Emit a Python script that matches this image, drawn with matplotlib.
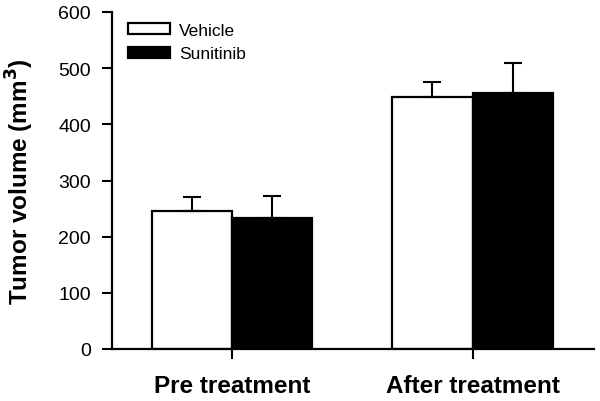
import numpy as np
import matplotlib
matplotlib.use('Agg')
import matplotlib.pyplot as plt

plt.rcParams['font.family'] = ['Liberation Sans', 'DejaVu Sans']

# data
groups = ['Pre treatment', 'After treatment']
vehicle = [245, 449]
vehicle_err = [25, 26]
sunitinib = [234, 455]
sunitinib_err = [38, 54]

fig = plt.figure(figsize=(6.0, 4.02), dpi=100)
ax = fig.add_axes([111.7/600, (402-350)/402, (594-111.7)/600, 337/402])

x = np.arange(len(groups))
w = 0.333
err_kw = dict(ecolor='black', elinewidth=1.5, capsize=6.5, capthick=1.5)
ax.bar(x - w/2, vehicle, w, yerr=[np.zeros(2), vehicle_err], color='white',
       edgecolor='black', linewidth=1.6, label='Vehicle', error_kw=err_kw)
ax.bar(x + w/2, sunitinib, w, yerr=[np.zeros(2), sunitinib_err], color='black',
       edgecolor='black', linewidth=1.6, label='Sunitinib', error_kw=err_kw)

ax.set_xlim(-0.5, 1.505)
ax.set_ylim(0, 600)
ax.set_yticks([0, 100, 200, 300, 400, 500, 600])
ax.set_xticks(x)
ax.set_xticklabels(groups, fontsize=17.5, fontweight='bold')
ax.tick_params(axis='y', direction='out', length=7, width=1.5, labelsize=14, pad=8)
ax.tick_params(axis='x', direction='out', length=7, width=1.5, pad=11)
ax.set_ylabel('Tumor volume (mm$^\\mathbf{3}$)', fontsize=17.5, fontweight='bold', labelpad=16)

for s in ['top', 'right']:
    ax.spines[s].set_visible(False)
for s in ['left', 'bottom']:
    ax.spines[s].set_linewidth(1.6)

ax.legend(loc='upper left', bbox_to_anchor=(0.034, 0.968), frameon=False,
          fontsize=12.5, handlelength=2.4, handleheight=0.65, handletextpad=0.55,
          labelspacing=0.5, borderaxespad=0, borderpad=0)

fig.savefig('out.png', dpi=100)
